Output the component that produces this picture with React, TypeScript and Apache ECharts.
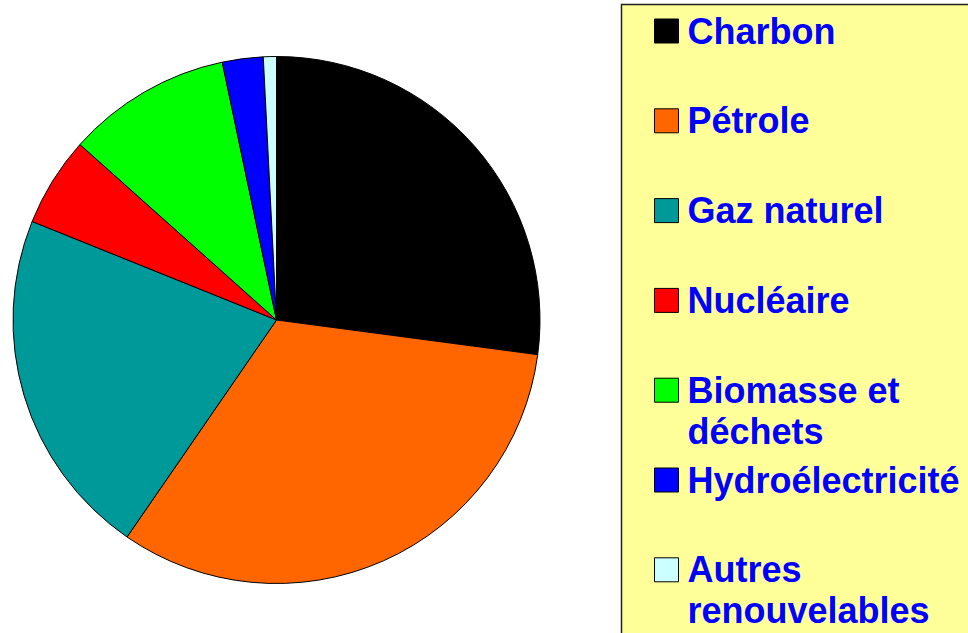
import React, { useEffect, useRef } from "react";
import * as echarts from "echarts";

const categories = [
  "Charbon",
  "Pétrole",
  "Gaz naturel",
  "Nucléaire",
  "Biomasse et\ndéchets",
  "Hydroélectricité",
  "Autres\nrenouvelables",
];
const values = [27.1, 32.5, 21.5, 5.5, 10.1, 2.5, 0.8];
const colors = ["#000000", "#FF6600", "#009999", "#FF0000", "#00FF00", "#0000FF", "#CCFFFF"];

export default function App() {
  const ref = useRef<HTMLDivElement>(null);
  useEffect(() => {
    if (!ref.current) return;
    const chart = echarts.init(ref.current, null, { renderer: "svg" });
    const legendFont = {
      fontFamily: "'Liberation Sans', Arial, sans-serif",
      fontWeight: "bold" as const,
      fontSize: 36,
      lineHeight: 41,
      color: "#0000FF",
    };
    const legends = categories.map((name, i) => {
      const lines = name.split("\n").length;
      const iconTop = 19 + i * 89.8;
      const top = lines > 1 ? iconTop - 49.5 : iconTop - 8.5;
      return {
        data: [name],
        orient: "vertical",
        left: 654,
        top,
        padding: 0,
        itemWidth: 24,
        itemHeight: 24,
        icon: "rect",
        selectedMode: false,
        itemStyle: { borderColor: "#000", borderWidth: 1 },
        formatter: (n: string) => (lines > 1 ? "\n" + n : n),
        textStyle: { ...legendFont, padding: [0, 0, 0, 4] },
      };
    });
    chart.setOption({
      animation: false,
      color: colors,
      graphic: [
        {
          type: "rect",
          z: -1,
          shape: { x: 621.5, y: 4.5, width: 400, height: 700 },
          style: { fill: "#FFFF99", stroke: "#222", lineWidth: 1.5 },
        },
      ],
      legend: legends,
      series: [
        {
          type: "pie",
          center: [276.5, 320],
          radius: 263.5,
          startAngle: 90,
          clockwise: true,
          label: { show: false },
          labelLine: { show: false },
          emphasis: { disabled: true },
          itemStyle: { borderColor: "#000", borderWidth: 1 },
          data: categories.map((name, i) => ({
            name,
            value: values[i],
            itemStyle: { color: colors[i] },
          })),
        },
      ],
    });
    return () => chart.dispose();
  }, []);
  return (
    <div
      ref={ref}
      style={{ position: "fixed", left: 0, top: 0, width: 968, height: 633, background: "#fff" }}
    />
  );
}
